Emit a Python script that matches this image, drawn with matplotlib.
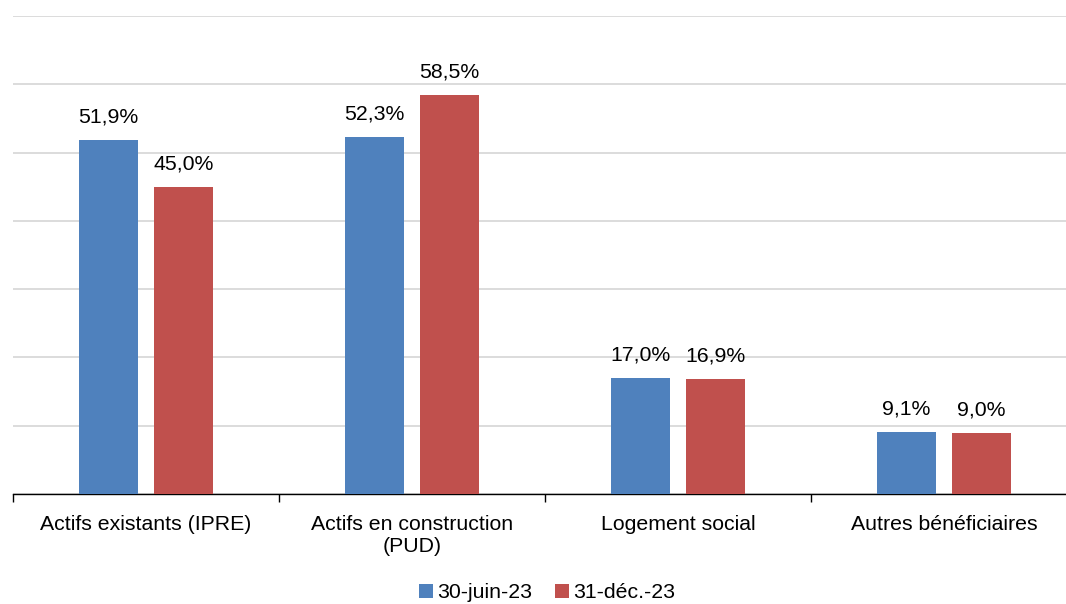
import matplotlib.pyplot as plt
import numpy as np

plt.rcParams['font.family'] = ['Liberation Sans', 'DejaVu Sans']

categories = ["Actifs existants (IPRE)", "Actifs en construction\n(PUD)",
              "Logement social", "Autres bénéficiaires"]
series_names = ["30-juin-23", "31-déc.-23"]
juin_23 = [51.9, 52.3, 17.0, 9.1]
dec_23 = [45.0, 58.5, 16.9, 9.0]
colors = ["#4F81BD", "#C0504D"]

fig = plt.figure(figsize=(10.66, 6.04), dpi=100)
# l'axe dépasse un peu à droite, comme dans l'original
ax = fig.add_axes([13 / 1066, 110 / 604, 1064 / 1066, 478 / 604])

x = np.arange(len(categories))
w = 0.222
off = 0.141
b1 = ax.bar(x - off, juin_23, w, color=colors[0], label=series_names[0], zorder=3)
b2 = ax.bar(x + off, dec_23, w, color=colors[1], label=series_names[1], zorder=3)

for bars, vals in ((b1, juin_23), (b2, dec_23)):
    for r, v in zip(bars, vals):
        ax.text(r.get_x() + r.get_width() / 2, v + 1.9, f"{v:.1f}%".replace(".", ","),
                ha="center", va="bottom", fontsize=15.3, color="black")

ax.set_xlim(-0.5, len(categories) - 0.5)
ax.set_ylim(0, 70)
ax.set_yticks(np.arange(0, 71, 10))
ax.yaxis.grid(True, color="#D9D9D9", linewidth=1.3, zorder=0)
ax.tick_params(axis="y", left=False, labelleft=False)

ax.set_xticks(np.arange(len(categories) + 1) - 0.5, minor=False)
ax.set_xticklabels([])
ax.set_xticks(x, minor=True)
ax.set_xticklabels(categories, minor=True, fontsize=15.3)
ax.tick_params(axis="x", which="major", length=6, width=1, color="black")
ax.tick_params(axis="x", which="minor", length=0, pad=15)

for s in ("top", "right", "left"):
    ax.spines[s].set_visible(False)
ax.spines["bottom"].set_color("black")
ax.spines["bottom"].set_linewidth(1)

fig.legend(loc="center", bbox_to_anchor=(547 / 1066, 11 / 604), ncol=2, frameon=False,
           fontsize=15.3, handlelength=0.65, handleheight=0.65, handletextpad=0.2,
           columnspacing=1.1)

fig.savefig("out.png", dpi=100)
